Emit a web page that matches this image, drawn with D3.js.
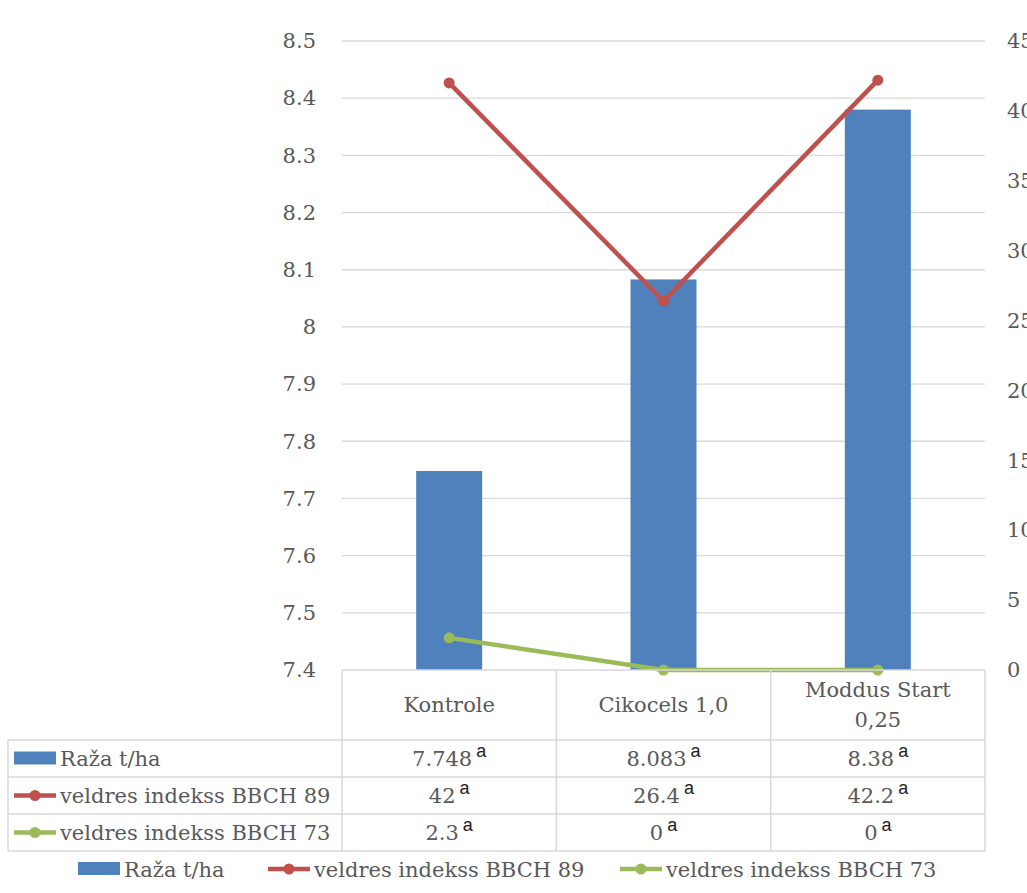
<!DOCTYPE html>
<html>
<head>
<meta charset="utf-8">
<script src="https://cdn.jsdelivr.net/npm/d3@7"></script>
<style>
  body { margin: 0; background: #fff; }
  text { font-family: "DejaVu Serif", serif; fill: #595959; }
</style>
</head>
<body>
<svg></svg>
<script>
// data
const categories = ["Kontrole", "Cikocels 1,0", "Moddus Start\n0,25"];
const yieldValues = [7.748, 8.083, 8.38];
const bbch89 = [42, 26.4, 42.2];
const bbch73 = [2.3, 0, 0];
const yieldLabels = ["7.748", "8.083", "8.38"];
const bbch89Labels = ["42", "26.4", "42.2"];
const bbch73Labels = ["2.3", "0", "0"];
const letters = ["a", "a", "a"];
const leftTicks = [7.4, 7.5, 7.6, 7.7, 7.8, 7.9, 8, 8.1, 8.2, 8.3, 8.4, 8.5];
const rightTicks = [0, 5, 10, 15, 20, 25, 30, 35, 40, 45];
const seriesNames = ["Raža t/ha", "veldres indekss BBCH 89", "veldres indekss BBCH 73"];

const width = 1027;
const height = 893;
const plotL = 342, plotR = 985, plotT = 41, plotB = 670;
const blue = "#4f81bd", red = "#c0504d", green = "#9bbb59", grid = "#d9d9d9";

const svg = d3.select("svg").attr("width", width).attr("height", height);

// scales
const x = d3.scaleBand().domain(categories).range([plotL, plotR]);
const yL = d3.scaleLinear().domain([7.4, 8.5]).range([plotB, plotT]);
const yR = d3.scaleLinear().domain([0, 45]).range([plotB, plotT]);

// gridlines
svg.append("g").selectAll("line")
  .data(leftTicks.slice(1))
  .enter().append("line")
  .attr("x1", plotL).attr("x2", plotR)
  .attr("y1", d => yL(d)).attr("y2", d => yL(d))
  .attr("stroke", grid).attr("stroke-width", 1.3);

// axes (labels only)
const axisL = svg.append("g")
  .attr("transform", `translate(${plotL - 14}, 0)`)
  .call(d3.axisLeft(yL).tickValues(leftTicks).tickFormat(d3.format("")).tickSize(0));
const axisR = svg.append("g")
  .attr("transform", `translate(${plotR + 14}, 0)`)
  .call(d3.axisRight(yR).tickValues(rightTicks).tickSize(0));
[axisL, axisR].forEach(a => {
  a.select(".domain").remove();
  a.attr("font-family", null).attr("font-size", null);
  a.selectAll("text").style("font-size", "21px").attr("fill", "#595959");
});
axisL.selectAll("text").attr("x", -12);
axisR.selectAll("text").attr("x", 8);

// bars
const barW = 66;
const cx = (d, i) => x(categories[i]) + x.bandwidth() / 2;
svg.append("g").selectAll("rect")
  .data(yieldValues)
  .enter().append("rect")
  .attr("x", (d, i) => cx(d, i) - barW / 2)
  .attr("y", d => yL(d))
  .attr("width", barW)
  .attr("height", d => yL(7.4) - yL(d))
  .attr("fill", blue);

// lines
[[bbch89, red], [bbch73, green]].forEach(([vals, col]) => {
  const line = d3.line().x(cx).y(d => yR(d));
  svg.append("path").datum(vals)
    .attr("d", line).attr("fill", "none")
    .attr("stroke", col).attr("stroke-width", 4.5).attr("stroke-linejoin", "round");
  svg.append("g").selectAll("circle").data(vals).enter().append("circle")
    .attr("cx", cx).attr("cy", d => yR(d)).attr("r", 5.5).attr("fill", col);
});

// data table
const tableLeft = 8;
const rowY = [plotB, 740, 777, 814, 851];
const tbl = svg.append("g").attr("stroke", grid).attr("stroke-width", 1.5);
tbl.append("line").attr("x1", plotL).attr("x2", plotR).attr("y1", rowY[0]).attr("y2", rowY[0]);
rowY.slice(1).forEach(y => {
  tbl.append("line").attr("x1", tableLeft).attr("x2", plotR).attr("y1", y).attr("y2", y);
});
tbl.append("line").attr("x1", tableLeft).attr("x2", tableLeft).attr("y1", rowY[1]).attr("y2", rowY[4]);
[plotL, ...categories.map(c => x(c) + x.bandwidth())].forEach(xx => {
  tbl.append("line").attr("x1", xx).attr("x2", xx).attr("y1", rowY[0]).attr("y2", rowY[4]);
});

// category headers
categories.forEach((c, i) => {
  const lines = c.split("\n");
  const t = svg.append("text")
    .attr("text-anchor", "middle")
    .style("font-size", "21px");
  const y0 = lines.length === 1 ? 712 : 697;
  lines.forEach((l, j) => {
    t.append("tspan").attr("x", cx(null, i)).attr("y", y0 + j * 30).text(l);
  });
});

// key symbol helper
function keySymbol(g, kind, x0, y0) {
  if (kind === 0) {
    g.append("rect").attr("x", x0).attr("y", y0 - 7).attr("width", 42).attr("height", 13).attr("fill", blue);
  } else {
    const col = kind === 1 ? red : green;
    g.append("line").attr("x1", x0).attr("x2", x0 + 42).attr("y1", y0).attr("y2", y0)
      .attr("stroke", col).attr("stroke-width", 4.5);
    g.append("circle").attr("cx", x0 + 21).attr("cy", y0).attr("r", 5.5).attr("fill", col);
  }
}

// table rows
const rowLabels = [yieldLabels, bbch89Labels, bbch73Labels];
seriesNames.forEach((name, r) => {
  const yMid = (rowY[r + 1] + rowY[r + 2]) / 2;
  keySymbol(svg, r, 14, yMid);
  svg.append("text").attr("x", 60).attr("y", yMid + 7)
    .style("font-size", "21px").text(name);
  rowLabels[r].forEach((v, i) => {
    const t = svg.append("text").attr("x", cx(null, i)).attr("y", yMid + 7)
      .attr("text-anchor", "middle").style("font-size", "21px");
    t.append("tspan").text(v);
    t.append("tspan").attr("dy", -9).attr("dx", 4)
      .style("font-family", "'Liberation Sans', sans-serif").style("font-size", "18px")
      .style("fill", "#222").text(letters[i]);
  });
});

// legend
const legendX = [78, 268, 620];
seriesNames.forEach((name, i) => {
  keySymbol(svg, i, legendX[i], 869);
  svg.append("text").attr("x", legendX[i] + 46).attr("y", 877)
    .style("font-size", "21px").text(name);
});
</script>
</body>
</html>
